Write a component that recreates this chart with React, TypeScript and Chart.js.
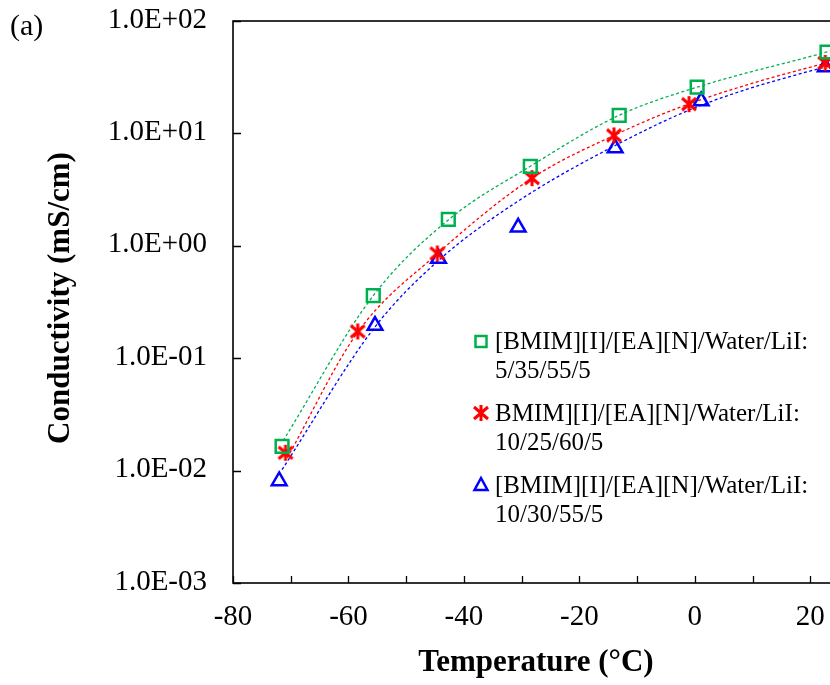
import React, { useEffect, useRef } from 'react';
import { Chart, registerables } from 'chart.js';

Chart.register(...registerables);

// ---------- data ----------
const LEGEND_LINES: string[][] = [
  ['[BMIM][I]/[EA][N]/Water/LiI:', '5/35/55/5'],
  ['BMIM][I]/[EA][N]/Water/LiI:', '10/25/60/5'],
  ['[BMIM][I]/[EA][N]/Water/LiI:', '10/30/55/5'],
];

// measured points: temperature (°C) / conductivity (mS/cm)
const greenT = [-71.5, -55.7, -42.7, -28.5, -13.1, 0.4, 22.9];
const greenS = [0.0164, 0.361, 1.72, 5.1, 14.5, 25.8, 53];
const redT = [-70.9, -58.4, -44.6, -28.2, -14.0, -1.0, 22.6];
const redS = [0.0144, 0.173, 0.855, 4.0, 9.6, 18.2, 42.3];
const blueT = [-72.0, -55.4, -44.4, -30.6, -13.8, 1.1, 22.6];
const blueS = [0.0081, 0.195, 0.77, 1.46, 7.4, 19.4, 38.9];

// dashed trend lines
const greenTrendT = [-71.3, -55.7, -42.7, -28.5, -13.1, 0.4, 22.9, 24];
const greenTrendS = [0.0185, 0.36, 1.7, 5.1, 14.5, 25.8, 53, 55];
const redTrendT = [-70.6, -58.4, -44.6, -28.2, -14.0, -1.0, 22.6, 24];
const redTrendS = [0.013, 0.17, 0.85, 4.0, 9.6, 18.3, 42, 43.5];
const blueTrendT = [-71.5, -55.4, -44.4, -30.6, -13.8, 1.1, 22.6, 24];
const blueTrendS = [0.0102, 0.19, 0.74, 2.5, 7.8, 17.8, 39, 40.5];

const X_TICKS = [-80, -70, -60, -50, -40, -30, -20, -10, 0, 10, 20, 30];
const X_LABELED = [-80, -60, -40, -20, 0, 20];
const Y_TICKS = [0.001, 0.01, 0.1, 1, 10, 100];

const GREEN = '#00B050';
const RED = '#FF0000';
const BLUE = '#0000FF';
const SERIF = "'Liberation Serif', 'Times New Roman', serif";

function fmtExp(v: number): string {
  const e = Math.round(Math.log10(v));
  const sign = e < 0 ? '-' : '+';
  return '1.0E' + sign + String(Math.abs(e)).padStart(2, '0');
}

function makeStar(): HTMLCanvasElement {
  const c = document.createElement('canvas');
  c.width = 20;
  c.height = 20;
  const g = c.getContext('2d')!;
  g.strokeStyle = RED;
  g.lineWidth = 3;
  g.lineCap = 'butt';
  g.beginPath();
  g.moveTo(10, 2);
  g.lineTo(10, 18);
  g.moveTo(3, 4);
  g.lineTo(17, 16);
  g.moveTo(17, 4);
  g.lineTo(3, 16);
  g.stroke();
  return c;
}

function pts(xs: number[], ys: number[]) {
  return xs.map((x, i) => ({ x, y: ys[i] }));
}

export default function App() {
  const ref = useRef<HTMLCanvasElement | null>(null);

  useEffect(() => {
    document.body.style.margin = '0';
    const canvas = ref.current;
    if (!canvas) return;
    const star = makeStar();

    const decor = {
      id: 'decor',
      afterDraw(chart: any) {
        const { ctx, chartArea, scales } = chart;
        const { left, right, top, bottom } = chartArea;
        const xs = scales.x;
        const ys = scales.y;
        ctx.save();
        // frame
        ctx.strokeStyle = '#000';
        ctx.lineWidth = 1.6;
        ctx.strokeRect(left, top, right - left, bottom - top);
        // inward ticks
        ctx.lineWidth = 1.3;
        ctx.beginPath();
        X_TICKS.forEach((v) => {
          const px = Math.round(xs.getPixelForValue(v)) + 0.5;
          ctx.moveTo(px, bottom);
          ctx.lineTo(px, bottom - 7);
        });
        Y_TICKS.forEach((v) => {
          const py = Math.round(ys.getPixelForValue(v)) + 0.5;
          ctx.moveTo(left, py);
          ctx.lineTo(left + 8, py);
        });
        ctx.stroke();

        // tick labels
        ctx.fillStyle = '#000';
        ctx.font = `29px ${SERIF}`;
        ctx.textBaseline = 'middle';
        ctx.textAlign = 'right';
        Y_TICKS.forEach((v) => {
          ctx.fillText(fmtExp(v), left - 26, ys.getPixelForValue(v) - 1);
        });
        ctx.textAlign = 'center';
        X_LABELED.forEach((v) => {
          ctx.fillText(String(v), xs.getPixelForValue(v), bottom + 34);
        });

        // panel tag
        ctx.font = `30px ${SERIF}`;
        ctx.textAlign = 'left';
        ctx.fillText('(a)', 10, 27);

        // axis titles
        ctx.font = `bold 31px ${SERIF}`;
        ctx.textAlign = 'center';
        ctx.fillText('Temperature (°C)', 536, 663);
        ctx.save();
        ctx.translate(61, 298);
        ctx.rotate(-Math.PI / 2);
        ctx.fillText('Conductivity (mS/cm)', 0, 0);
        ctx.restore();

        // legend
        const rows = [341.5, 413, 485];
        const lineGap = 29;
        const mx = 481;
        ctx.font = `25px ${SERIF}`;
        ctx.textAlign = 'left';
        rows.forEach((ry, i) => {
          ctx.lineWidth = 2.5;
          if (i === 0) {
            ctx.strokeStyle = GREEN;
            ctx.strokeRect(mx - 5.5, ry - 5.5, 11, 11);
          } else if (i === 1) {
            ctx.drawImage(star, mx - 10, ry - 10);
          } else {
            ctx.strokeStyle = BLUE;
            ctx.beginPath();
            ctx.moveTo(mx, ry - 7);
            ctx.lineTo(mx + 6.5, ry + 5);
            ctx.lineTo(mx - 6.5, ry + 5);
            ctx.closePath();
            ctx.stroke();
          }
          ctx.fillStyle = '#000';
          ctx.fillText(LEGEND_LINES[i][0], 495, ry + 1);
          ctx.fillText(LEGEND_LINES[i][1], 495, ry + 1 + lineGap);
        });
        ctx.restore();
      },
    };

    const trend = (data: any, color: string) => ({
      type: 'line' as const,
      data,
      showLine: true,
      borderColor: color,
      borderWidth: 1.3,
      borderDash: [3, 2.5],
      pointRadius: 0,
      cubicInterpolationMode: 'monotone' as const,
      fill: false,
      order: 2,
    });

    const chart = new Chart(canvas, {
      type: 'scatter',
      data: {
        datasets: [
          {
            label: LEGEND_LINES[0].join(' '),
            data: pts(greenT, greenS),
            pointStyle: 'rect',
            pointRadius: 9,
            borderColor: GREEN,
            backgroundColor: 'rgba(0,0,0,0)',
            borderWidth: 2.5,
            order: 0,
          },
          {
            label: LEGEND_LINES[1].join(' '),
            data: pts(redT, redS),
            pointStyle: star as any,
            pointRadius: 9,
            borderColor: RED,
            backgroundColor: RED,
            order: 0,
          },
          {
            label: LEGEND_LINES[2].join(' '),
            data: pts(blueT, blueS),
            pointStyle: 'triangle',
            pointRadius: 8.5,
            borderColor: BLUE,
            backgroundColor: 'rgba(0,0,0,0)',
            borderWidth: 2.5,
            order: 0,
          },
          trend(pts(greenTrendT, greenTrendS), GREEN) as any,
          trend(pts(redTrendT, redTrendS), RED) as any,
          trend(pts(blueTrendT, blueTrendS), BLUE) as any,
        ],
      },
      options: {
        responsive: false,
        maintainAspectRatio: false,
        animation: false,
        layout: { padding: { top: 21, right: 12, left: 0, bottom: 0 } },
        plugins: {
          legend: { display: false },
          tooltip: { enabled: false },
          title: { display: false },
        },
        scales: {
          x: {
            type: 'linear',
            position: 'bottom',
            min: -80,
            max: 30,
            grid: { display: false, drawTicks: false },
            border: { display: false },
            ticks: { display: false, stepSize: 10 },
            afterFit: (s: any) => {
              s.height = 102;
            },
          },
          y: {
            type: 'logarithmic',
            min: 0.001,
            max: 100,
            grid: { display: false, drawTicks: false },
            border: { display: false },
            ticks: { display: false },
            afterFit: (s: any) => {
              s.width = 233;
            },
          },
        },
      },
      plugins: [decor],
    });

    return () => chart.destroy();
  }, []);

  return (
    <div style={{ width: 830, height: 685, overflow: 'hidden', position: 'relative', background: '#fff' }}>
      <canvas ref={ref} width={880} height={685} style={{ display: 'block' }} />
    </div>
  );
}
